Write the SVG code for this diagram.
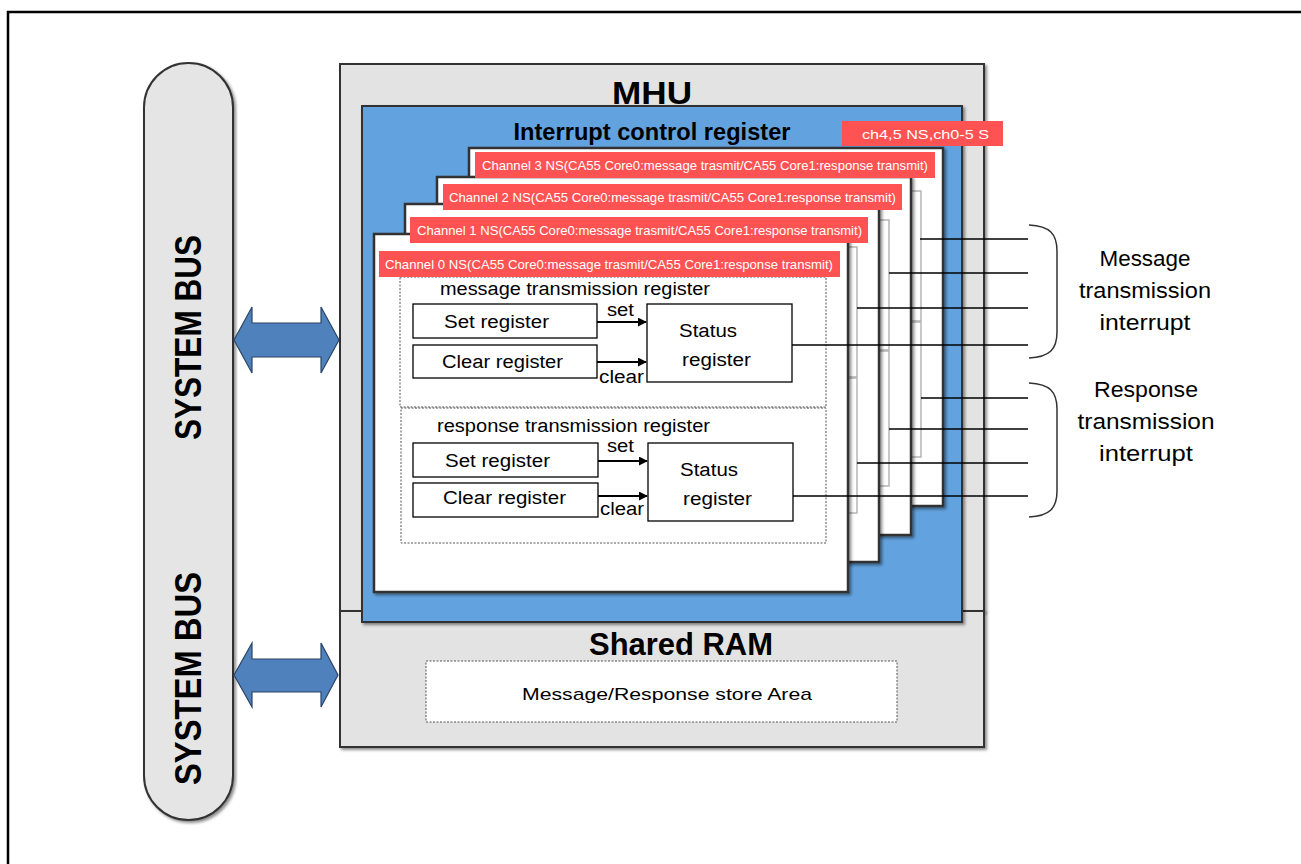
<svg xmlns="http://www.w3.org/2000/svg" width="1301" height="864" viewBox="0 0 1301 864">
<defs>
<style>
.t{font-family:"Liberation Sans",Arial,sans-serif;fill:#000}
.b{font-weight:bold}
.w{fill:#fff}
.card{fill:#fff;stroke:#333;stroke-width:2.5}
.reg{fill:#fff;stroke:#000;stroke-width:1.3}
.dash{fill:#fff;stroke:#555;stroke-width:1;stroke-dasharray:2 1.5}
.ghost{fill:none;stroke:#b5b5b5;stroke-width:1.5}
.lbl{fill:#ff5353}
.ln{stroke:#000;stroke-width:1.5;fill:none}
.arr{stroke:#000;stroke-width:1.8;fill:none;marker-end:url(#ah)}
.brace{stroke:#333;stroke-width:1.5;fill:none}
.bus{fill:#e5e5e5;stroke:#333;stroke-width:2}
.dbl{fill:#4f81bd;stroke:#2a4466;stroke-width:1.2}
</style>
<marker id="ah" viewBox="0 0 10 10" refX="9" refY="5" markerWidth="5" markerHeight="5" orient="auto" markerUnits="strokeWidth">
<path d="M0,0 L10,5 L0,10 z" fill="#000"/>
</marker>
<filter id="sh" x="-5%" y="-5%" width="110%" height="110%">
<feDropShadow dx="2" dy="2" stdDeviation="1.5" flood-color="#000" flood-opacity="0.45"/>
</filter>
</defs>
<rect x="0" y="0" width="1301" height="864" fill="#fff"/>
<rect x="8" y="12" width="1400" height="900" fill="none" stroke="#000" stroke-width="2.5"/>

<g id="system-bus">
<rect class="bus" x="144" y="63" width="89" height="757" rx="44.5" ry="44.5" filter="url(#sh)"/>
<text class="t b" transform="translate(201,440) rotate(-90)" font-size="36" textLength="205" lengthAdjust="spacingAndGlyphs">SYSTEM BUS</text>
<text class="t b" transform="translate(201,785) rotate(-90)" font-size="36" textLength="213" lengthAdjust="spacingAndGlyphs">SYSTEM BUS</text>
</g>

<g id="bus-arrows">
<polygon class="dbl" points="234,340 252,307 252,323 321,323 321,307 339,340 321,373 321,357 252,357 252,373"/>
<polygon class="dbl" points="234,675 252,643 252,659 321,659 321,643 338,675 321,707 321,692 252,692 252,707"/>
</g>

<g id="mhu">
<rect x="340" y="64" width="644" height="547" fill="#e3e3e3" stroke="#333" stroke-width="2" filter="url(#sh)"/>
<text class="t b" x="652" y="104" font-size="32" text-anchor="middle" textLength="80" lengthAdjust="spacingAndGlyphs">MHU</text>
</g>

<g id="shared-ram">
<rect x="340" y="611" width="644" height="136" fill="#e3e3e3" stroke="#333" stroke-width="2" filter="url(#sh)"/>
<text class="t b" x="681" y="655" font-size="31" text-anchor="middle" textLength="184" lengthAdjust="spacingAndGlyphs">Shared RAM</text>
<rect class="dash" x="426" y="661" width="471" height="61"/>
<text class="t" x="667" y="700" font-size="17" text-anchor="middle" textLength="290" lengthAdjust="spacingAndGlyphs">Message/Response store Area</text>
</g>

<g id="interrupt-control-register">
<rect x="362" y="106" width="600" height="516" fill="#62a3df" stroke="#333" stroke-width="2" filter="url(#sh)"/>
<text class="t b" x="652" y="140" font-size="24" text-anchor="middle" textLength="277" lengthAdjust="spacingAndGlyphs">Interrupt control register</text>
</g>

<g id="channel-3" transform="translate(95,-86)">
<rect class="card" x="374" y="234" width="474" height="358" filter="url(#sh)"/>
<rect class="ghost" x="400" y="277" width="426" height="130"/>
<rect class="ghost" x="401" y="408" width="425" height="135"/>
</g>
<g id="channel-2" transform="translate(63,-57)">
<rect class="card" x="374" y="234" width="474" height="358" filter="url(#sh)"/>
<rect class="ghost" x="400" y="277" width="426" height="130"/>
<rect class="ghost" x="401" y="408" width="425" height="135"/>
</g>
<g id="channel-1" transform="translate(31,-30)">
<rect class="card" x="374" y="234" width="474" height="358" filter="url(#sh)"/>
<rect class="ghost" x="400" y="277" width="426" height="130"/>
<rect class="ghost" x="401" y="408" width="425" height="135"/>
</g>
<g id="channel-0">
<rect class="card" x="374" y="234" width="474" height="358" filter="url(#sh)"/>
<rect class="dash" x="400" y="277" width="426" height="130"/>
<text class="t" x="440" y="295" font-size="18" textLength="270" lengthAdjust="spacingAndGlyphs">message transmission register</text>
<rect class="reg" x="413" y="304" width="184" height="34"/>
<text class="t" x="444" y="328" font-size="18" textLength="105" lengthAdjust="spacingAndGlyphs">Set register</text>
<rect class="reg" x="413" y="345" width="184" height="33"/>
<text class="t" x="442" y="368" font-size="18" textLength="121" lengthAdjust="spacingAndGlyphs">Clear register</text>
<rect class="reg" x="647" y="304" width="145" height="78"/>
<text class="t" x="679" y="337" font-size="18" textLength="58" lengthAdjust="spacingAndGlyphs">Status</text>
<text class="t" x="682" y="366" font-size="18" textLength="69" lengthAdjust="spacingAndGlyphs">register</text>
<text class="t" x="607" y="316" font-size="18" textLength="27" lengthAdjust="spacingAndGlyphs">set</text>
<text class="t" x="599" y="383" font-size="18" textLength="45" lengthAdjust="spacingAndGlyphs">clear</text>
<rect class="dash" x="401" y="408" width="425" height="135"/>
<text class="t" x="437" y="432" font-size="18" textLength="273" lengthAdjust="spacingAndGlyphs">response transmission register</text>
<rect class="reg" x="413" y="443" width="185" height="34"/>
<text class="t" x="445" y="467" font-size="18" textLength="105" lengthAdjust="spacingAndGlyphs">Set register</text>
<rect class="reg" x="413" y="483" width="185" height="34"/>
<text class="t" x="443" y="504" font-size="18" textLength="123" lengthAdjust="spacingAndGlyphs">Clear register</text>
<rect class="reg" x="648" y="443" width="145" height="78"/>
<text class="t" x="680" y="476" font-size="18" textLength="58" lengthAdjust="spacingAndGlyphs">Status</text>
<text class="t" x="683" y="505" font-size="18" textLength="69" lengthAdjust="spacingAndGlyphs">register</text>
<text class="t" x="607" y="452" font-size="18" textLength="27" lengthAdjust="spacingAndGlyphs">set</text>
<text class="t" x="600" y="515" font-size="18" textLength="44" lengthAdjust="spacingAndGlyphs">clear</text>
</g>

<g id="channel-labels">
<rect class="lbl" x="842" y="121" width="161" height="25"/>
<text class="t w" x="862" y="139" font-size="13.5" textLength="127" lengthAdjust="spacingAndGlyphs">ch4,5 NS,ch0-5 S</text>
<rect class="lbl" x="475" y="152" width="460" height="26"/>
<text class="t w" x="482" y="170" font-size="13" textLength="446" lengthAdjust="spacingAndGlyphs">Channel 3 NS(CA55 Core0:message trasmit/CA55 Core1:response transmit)</text>
<rect class="lbl" x="443" y="184" width="459" height="26"/>
<text class="t w" x="449" y="202" font-size="13" textLength="447" lengthAdjust="spacingAndGlyphs">Channel 2 NS(CA55 Core0:message trasmit/CA55 Core1:response transmit)</text>
<rect class="lbl" x="410" y="217" width="458" height="26"/>
<text class="t w" x="417" y="235" font-size="13" textLength="445" lengthAdjust="spacingAndGlyphs">Channel 1 NS(CA55 Core0:message trasmit/CA55 Core1:response transmit)</text>
<rect class="lbl" x="379" y="251" width="461" height="26"/>
<text class="t w" x="385" y="269" font-size="13" textLength="448" lengthAdjust="spacingAndGlyphs">Channel 0 NS(CA55 Core0:message trasmit/CA55 Core1:response transmit)</text>
</g>

<g id="connectors">
<line class="arr" x1="597" y1="322" x2="646" y2="322"/>
<line class="arr" x1="597" y1="362" x2="646" y2="362"/>
<line class="arr" x1="598" y1="461" x2="647" y2="461"/>
<line class="arr" x1="598" y1="496" x2="647" y2="496"/>
<line class="ln" x1="920" y1="239" x2="1028" y2="239"/>
<line class="ln" x1="889" y1="273" x2="1028" y2="273"/>
<line class="ln" x1="857" y1="308" x2="1028" y2="308"/>
<line class="ln" x1="792" y1="345" x2="1028" y2="345"/>
<line class="ln" x1="921" y1="398" x2="1028" y2="398"/>
<line class="ln" x1="889" y1="429" x2="1028" y2="429"/>
<line class="ln" x1="857" y1="463" x2="1028" y2="463"/>
<line class="ln" x1="793" y1="496" x2="1028" y2="496"/>
</g>

<g id="message-interrupt">
<path class="brace" d="M1029,225 C1050,226 1057,234 1057,251 L1057,332 C1057,349 1050,357 1029,358"/>
<text class="t" x="1145" y="266" font-size="22" text-anchor="middle" textLength="91" lengthAdjust="spacingAndGlyphs">Message</text>
<text class="t" x="1145" y="298" font-size="22" text-anchor="middle" textLength="132" lengthAdjust="spacingAndGlyphs">transmission</text>
<text class="t" x="1145" y="330" font-size="22" text-anchor="middle" textLength="91" lengthAdjust="spacingAndGlyphs">interrupt</text>
</g>
<g id="response-interrupt">
<path class="brace" d="M1029,383 C1050,384 1057,392 1057,409 L1057,491 C1057,508 1050,516 1029,517"/>
<text class="t" x="1146" y="397" font-size="22" text-anchor="middle" textLength="104" lengthAdjust="spacingAndGlyphs">Response</text>
<text class="t" x="1146" y="429" font-size="22" text-anchor="middle" textLength="137" lengthAdjust="spacingAndGlyphs">transmission</text>
<text class="t" x="1146" y="461" font-size="22" text-anchor="middle" textLength="94" lengthAdjust="spacingAndGlyphs">interrupt</text>
</g>
</svg>
